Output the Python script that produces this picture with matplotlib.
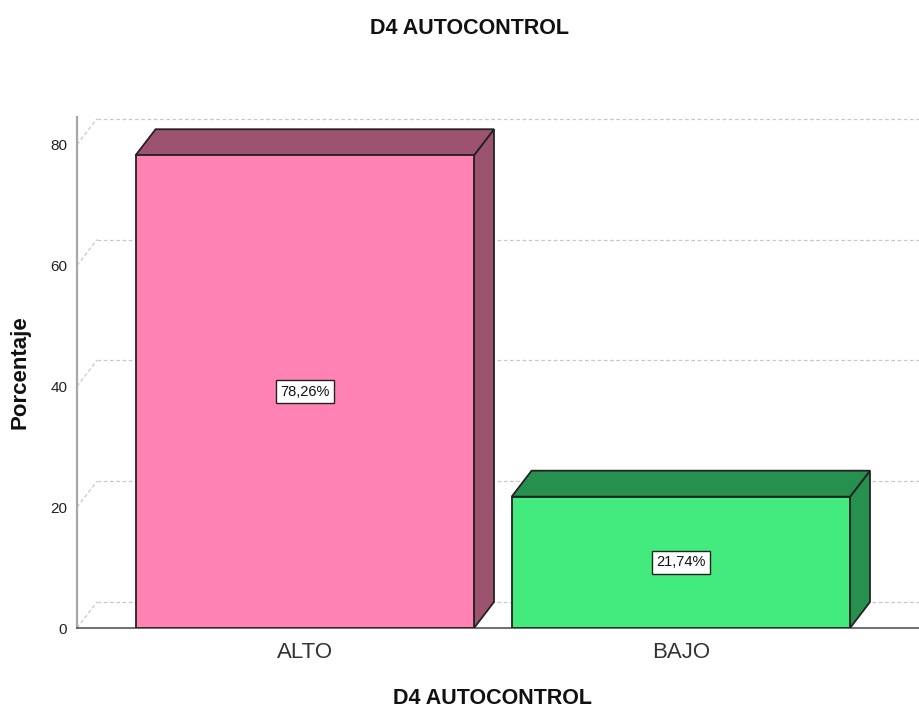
import matplotlib.pyplot as plt
from matplotlib.patches import Polygon

plt.rcParams['font.family'] = ['Liberation Sans', 'DejaVu Sans']

categories = ['ALTO', 'BAJO']
values = [78.26, 21.74]
labels = ['78,26%', '21,74%']
front_colors = ['#FF82B4', '#43EA7E']
shade_colors = ['#9C536F', '#26914F']
yticks = [0, 20, 40, 60, 80]

W = 0.9          # bar width (x units)
DX = 0.053       # depth offset x
DY = 4.3         # depth offset y
XMIN, XMAX = -0.606, 1.636

fig = plt.figure(figsize=(9.2, 7.11), dpi=100, facecolor='white')
ax = fig.add_axes([77/920, 83/711, 843/920, 528/711])
ax.set_xlim(XMIN, XMAX)
ax.set_ylim(0, 87.4)
for s in ax.spines.values():
    s.set_visible(False)

# back grid with 3D offset
for v in yticks:
    ax.plot([XMIN, XMIN + DX], [v, v + DY], color='#C8C8C8', lw=0.9, ls=(0, (3, 2)), zorder=1)
    ax.plot([XMIN + DX, XMAX], [v + DY, v + DY], color='#C8C8C8', lw=0.9, ls=(0, (3, 2)), zorder=1)

ax.plot([XMIN, XMIN], [0, 80 + DY + 0.3], color='#A8A8A8', lw=1.6, zorder=2, clip_on=False)
ax.plot([XMIN, XMAX], [0, 0], color='#555555', lw=1.2, zorder=2, clip_on=False)

for i, (v, fc, sc, lab) in enumerate(zip(values, front_colors, shade_colors, labels)):
    x0, x1 = i - W / 2, i + W / 2
    front = Polygon([(x0, 0), (x1, 0), (x1, v), (x0, v)], closed=True,
                    facecolor=fc, edgecolor='#222222', lw=1.3, zorder=3)
    top = Polygon([(x0, v), (x1, v), (x1 + DX, v + DY), (x0 + DX, v + DY)], closed=True,
                  facecolor=sc, edgecolor='#222222', lw=1.3, zorder=3)
    side = Polygon([(x1, 0), (x1 + DX, DY), (x1 + DX, v + DY), (x1, v)], closed=True,
                   facecolor=sc, edgecolor='#222222', lw=1.3, zorder=3)
    for p in (side, top, front):
        ax.add_patch(p)
    ax.text(i, v / 2, lab, ha='center', va='center', fontsize=10.5, color='#111111', zorder=5,
            bbox=dict(boxstyle='square,pad=0.3', facecolor='white', edgecolor='#222222', lw=1.0))

ax.set_yticks(yticks)
ax.set_yticklabels([str(t) for t in yticks], fontsize=11, color='#222222')
ax.tick_params(axis='y', length=0, pad=7)
ax.set_xticks(range(len(categories)))
ax.set_xticklabels(categories, fontsize=16, color='#333333')
ax.tick_params(axis='x', length=0, pad=10)

fig.text(20/920, 1 - 372/711, 'Porcentaje', rotation=90, ha='center', va='center',
         fontsize=16, fontweight='bold', color='#111111')
fig.text(470/920, 1 - 28/711, 'D4 AUTOCONTROL', ha='center', va='center',
         fontsize=15.5, fontweight='bold', color='#111111')
fig.text(493/920, 1 - 698/711, 'D4 AUTOCONTROL', ha='center', va='center',
         fontsize=15.5, fontweight='bold', color='#111111')

fig.savefig('out.png', dpi=100, facecolor='white')
